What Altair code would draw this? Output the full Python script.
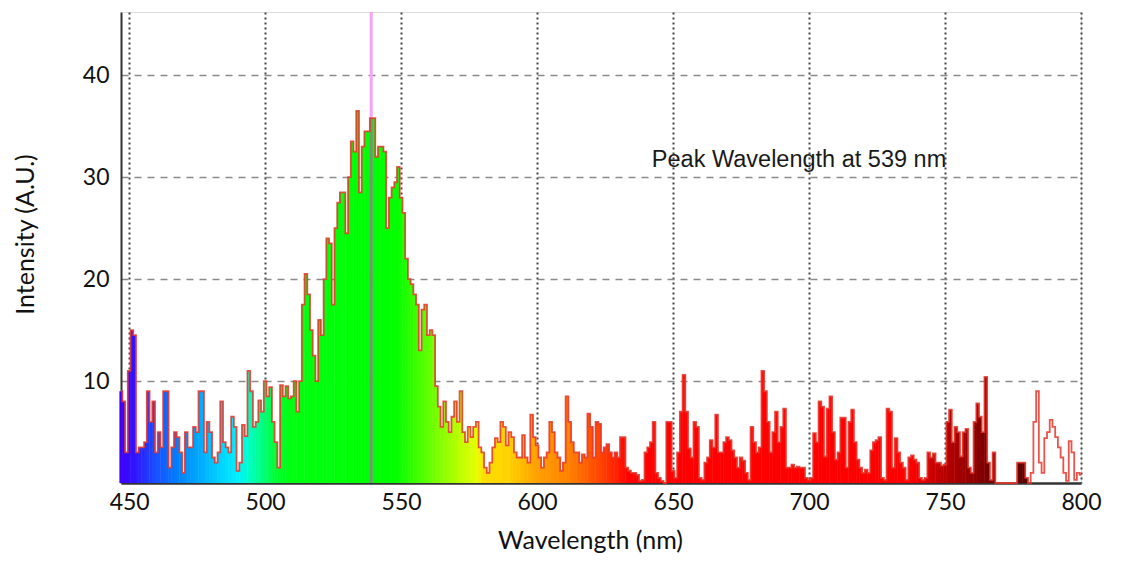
import altair as alt
import pandas as pd

# ---------------- data ----------------
wl_start = 447
wl_end = 800
intensity = [
    9, 8, 3,                                              # 447-449
    11, 15, 14.5, 3, 3.5, 3.5, 4, 9, 6, 8,                # 450-459
    3, 5, 3.5, 9, 9, 1.5, 3.5, 5, 4.5, 3,                 # 460-469
    1, 5, 3.5, 3.5, 5.5, 5, 9, 9, 3, 6,                   # 470-479
    5, 2.5, 2, 3, 8, 4, 3.5, 3, 6.5, 5.5,                 # 480-489
    1.2, 2, 5.7, 4.6, 11, 9, 5.5, 6, 8.1, 7,              # 490-499
    10, 8.5, 9.4, 6, 4, 1.5, 9.6, 8.5, 9.5, 8.3,          # 500-509
    8.5, 10, 7, 10, 17.5, 20.5, 18.5, 15, 12.5, 10,       # 510-519
    16, 14.5, 20, 24, 23.5, 17.5, 25, 27.5, 28.5, 28.5,   # 520-529
    24.5, 30, 33.5, 32.5, 36.5, 28.5, 33, 34.5, 34.5, 35.8,  # 530-539
    35.8, 32, 33, 33, 32.5, 25, 28, 29, 29.5, 31,         # 540-549
    28, 26.5, 22, 20, 19.5, 18.5, 17.5, 13, 17, 17.5,     # 550-559
    14.5, 15, 14.5, 9.5, 7.5, 5.5, 8, 6, 5, 6.5,          # 560-569
    8, 6, 9, 5, 4, 5.5, 4.5, 5.5, 6, 3.5,                 # 570-579
    3, 1.5, 1, 2, 3.5, 4.4, 4, 6, 5.5, 3.7,               # 580-589
    5, 4.5, 3, 2.5, 2.5, 4.7, 2.5, 2, 6.7, 4.5,           # 590-599
    3.7, 2.5, 1.5, 2.5, 3, 6, 5, 3, 2.5, 1.2,             # 600-609
    2, 8.5, 6, 4, 3, 3, 2, 2.8, 2.5, 6.8,                 # 610-619
    5.5, 2.5, 6, 5.8, 3, 3.5, 3.8, 3, 2.5, 3,             # 620-629
    2.5, 4.5, 4.5, 1.5, 1.2, 1, 1, 0.8, 0.2, 0.3,         # 630-639
    3, 3.5, 4, 6, 1, 0.5, 0.2, 0, 6, 6,                   # 640-649
    1.2, 0.5, 3, 7, 10.6, 7, 3.4, 2.5, 6, 5.5,            # 650-659
    0.5, 0.3, 2, 2.5, 4.2, 3.5, 6.7, 3, 3, 4,             # 660-669
    4.5, 4.2, 3.2, 2.5, 1.5, 2.5, 2.2, 1, 0.3, 5.5,       # 670-679
    4, 3, 3.5, 11, 9, 6, 3, 5, 7, 4,                      # 680-689
    5.5, 7.3, 1.5, 1.5, 1.8, 1.5, 1.6, 1.5, 1.5, 0.5,     # 690-699
    0.3, 0.5, 4.9, 4, 8, 7.5, 2.6, 7.3, 8.5, 5,           # 700-709
    2.3, 3, 6.4, 6.4, 1.5, 6, 7.2, 4, 2.3, 1.5,           # 710-719
    1, 1.3, 1, 3.2, 4, 4.2, 4.5, 0.5, 0.3, 7.3,           # 720-729
    7, 1.5, 4.4, 3, 2, 1.5, 0.3, 2.5, 2.7, 2.3,           # 730-739
    2, 0.5, 0.3, 0.5, 3, 2.5, 2.9, 2, 2, 1.7,             # 740-749
    1.8, 6, 7.2, 4, 5.5, 5, 2.6, 5, 5.3, 1.5,             # 750-759
    1, 6, 7.8, 6.5, 5, 10.4, 2, 0.3, 3, 0,                # 760-769
    0, 0, 0, 0, 0, 0, 0, 2, 2, 2,                         # 770-779
    0.5, 0, 1, 6, 9, 2, 1, 4.4, 5, 6.2,                   # 780-789
    5.5, 4.5, 3.5, 2.5, 1, 0.2, 4.1, 3, 0.3, 1,           # 790-799
    0.8,                                                  # 800
]
wavelengths = list(range(wl_start, wl_end + 1))

x_ticks = [450, 500, 550, 600, 650, 700, 750, 800]
y_ticks = [10, 20, 30, 40]

# spectral fill colours by wavelength
spec_nm = [447, 452, 460, 468, 476, 484, 490, 494, 499, 504, 510, 548, 556,
           564, 572, 578.5, 579.5, 590, 600, 612, 624, 634, 738, 746, 756,
           766, 778, 800]
spec_col = ["#3f00ff", "#3014ff", "#1a50ff", "#0080ff", "#00aaff", "#00d4ff",
            "#00f0ff", "#00ffc8", "#00ff80", "#00ff30", "#00ff10", "#00ff00",
            "#40ff00", "#80ff00", "#c0ff00", "#e8ff00", "#ffe000", "#ffd000",
            "#ffa000", "#ff8000", "#ff4000", "#ff0000", "#ff0000", "#c80000",
            "#a00000", "#780000", "#600000", "#600000"]
fill_cutoff_nm = 781.5

peak_wavelength = 539
annotation_text = "Peak Wavelength at 539 nm"
annotation_x = 642.2
annotation_y = 31.0

# --------------- chart ----------------
df = pd.DataFrame({"wavelength": wavelengths, "intensity": intensity})
peak_df = pd.DataFrame({"wavelength": [peak_wavelength]})
annot_df = pd.DataFrame({"wavelength": [annotation_x], "intensity": [annotation_y],
                         "label": [annotation_text]})

xs = alt.Scale(domain=[wl_start, wl_end], nice=False, zero=False, padding=0)
ys = alt.Scale(domain=[0, 46.2], nice=False, zero=True, padding=0)

x_axis = alt.Axis(values=x_ticks, grid=True, gridDash=[2, 3], gridColor="#444444",
                  gridWidth=2, gridOpacity=1, domainColor="#333333", domainWidth=2.5,
                  ticks=False, labelFont="Lato", labelFontSize=23, labelColor="#111111",
                  labelPadding=8, labelFlush=False, title="Wavelength (nm)",
                  titleFont="Lato", titleFontSize=25, titleFontWeight="normal",
                  titleColor="#111111", titleX=469, titleY=57, titleAlign="center",
                  titleBaseline="middle")
y_axis = alt.Axis(values=y_ticks, grid=True, gridDash=[7, 6], gridColor="#8a8a8a",
                  gridWidth=1.6, gridOpacity=1, domainColor="#333333", domainWidth=2,
                  ticks=False, labelFont="Lato", labelFontSize=23, labelColor="#111111",
                  labelPadding=12, title="Intensity (A.U.)", titleFont="Lato",
                  titleFontSize=25, titleFontWeight="normal", titleColor="#111111",
                  titleX=-96, titleY=222, titleAngle=270, titleAlign="center",
                  titleBaseline="middle")

X = alt.X("wavelength:Q", scale=xs, axis=x_axis)
Y = alt.Y("intensity:Q", scale=ys, axis=y_axis)

pink_rule = alt.Chart(peak_df).mark_rule(color="#f5a3f5", strokeWidth=3).encode(x=X)

bars = alt.Chart(df).mark_bar(size=3.2).encode(
    x=X,
    y=Y,
    color=alt.Color("wavelength:Q", scale=alt.Scale(domain=spec_nm, range=spec_col,
                                                    interpolate="rgb"), legend=None),
    opacity=alt.Opacity("wavelength:Q", scale=alt.Scale(type="threshold",
                                                         domain=[fill_cutoff_nm],
                                                         range=[1, 0]), legend=None),
)

gray_rule = alt.Chart(df).transform_filter(
    alt.datum.wavelength == peak_wavelength
).mark_rule(color="#7f8a7f", strokeWidth=3, opacity=0.9).encode(x=X, y=Y, y2=alt.datum(0))

line = alt.Chart(df).mark_line(interpolate="step", color="#e8362c", strokeWidth=1.8,
                               opacity=0.85).encode(x=X, y=Y)

text = alt.Chart(annot_df).mark_text(align="left", baseline="alphabetic",
                                     font="Liberation Sans", fontSize=23.5,
                                     color="#1a1a1a").encode(x=X, y=Y, text="label:N")

chart = alt.layer(pink_rule, bars, gray_rule, line, text).properties(
    width=960, height=471,
    padding={"left": 113, "top": 4, "right": 24, "bottom": 70},
    autosize=alt.AutoSizeParams(type="none"),
    background="white",
).configure_view(stroke="#dcdcdc", strokeWidth=1)

chart.save("out.html", embed_options={"renderer": "svg", "actions": False})
